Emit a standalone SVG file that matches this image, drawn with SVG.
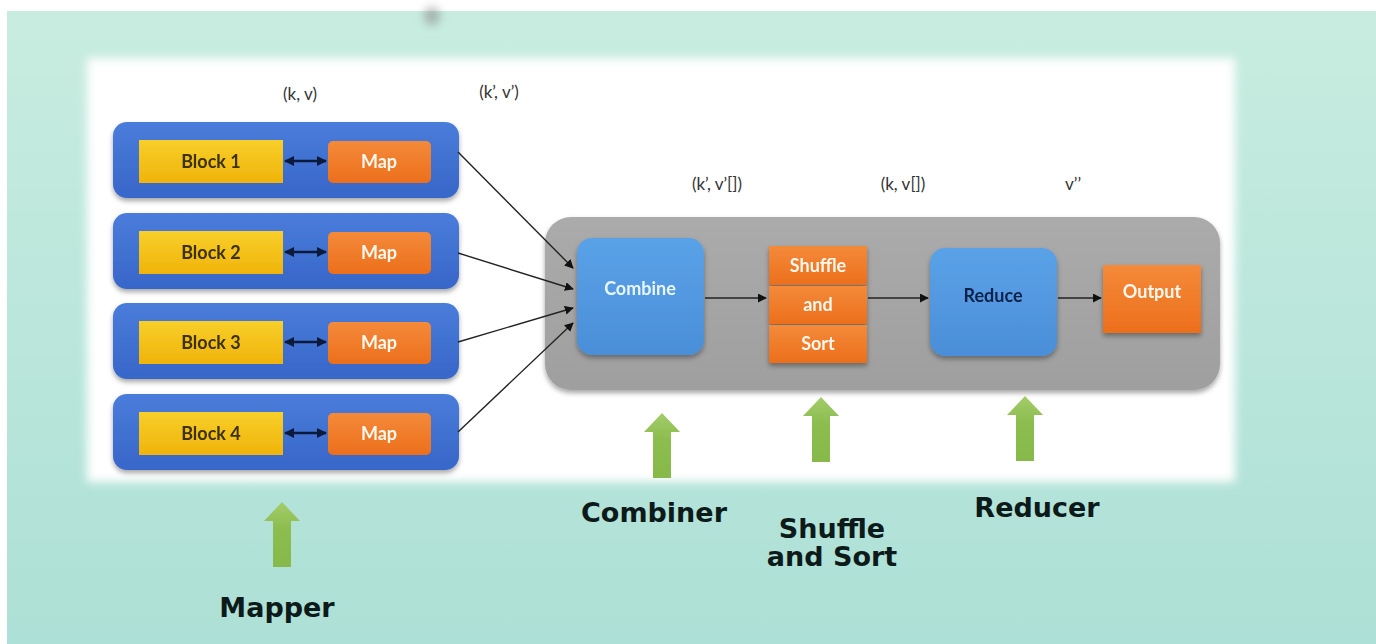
<svg xmlns="http://www.w3.org/2000/svg" width="1376" height="644" viewBox="0 0 1376 644">
<defs>
<linearGradient id="bg" x1="0" y1="0" x2="0" y2="1">
<stop offset="0" stop-color="#c8ece0"/>
<stop offset="1" stop-color="#ade0d6"/>
</linearGradient>
<linearGradient id="rowg" x1="0" y1="0" x2="0" y2="1">
<stop offset="0" stop-color="#4a7ddb"/>
<stop offset="1" stop-color="#3766c8"/>
</linearGradient>
<linearGradient id="yel" x1="0" y1="0" x2="0" y2="1">
<stop offset="0" stop-color="#f8cf2a"/>
<stop offset="1" stop-color="#f0b30a"/>
</linearGradient>
<linearGradient id="org" x1="0" y1="0" x2="0" y2="1">
<stop offset="0" stop-color="#f48a3a"/>
<stop offset="1" stop-color="#ec6f1c"/>
</linearGradient>
<linearGradient id="lb" x1="0" y1="0" x2="0" y2="1">
<stop offset="0" stop-color="#5aa2e8"/>
<stop offset="1" stop-color="#4a8ed8"/>
</linearGradient>
<linearGradient id="gray" x1="0" y1="0" x2="0" y2="1">
<stop offset="0" stop-color="#ababab"/>
<stop offset="1" stop-color="#9f9f9f"/>
</linearGradient>
<linearGradient id="grn" x1="0" y1="0" x2="0" y2="1">
<stop offset="0" stop-color="#a3cc6a"/>
<stop offset="0.4" stop-color="#8dbd4f"/>
<stop offset="1" stop-color="#86b84a"/>
</linearGradient>
<filter id="soft" x="-5%" y="-5%" width="110%" height="110%"><feGaussianBlur stdDeviation="5"/></filter>
<filter id="blob" x="-100%" y="-100%" width="300%" height="300%"><feGaussianBlur stdDeviation="5"/></filter>
<filter id="sh" x="-10%" y="-10%" width="120%" height="130%">
<feDropShadow dx="0" dy="3" stdDeviation="2.5" flood-color="#000" flood-opacity="0.35"/>
</filter>
<marker id="ah" viewBox="0 0 10 10" refX="9" refY="5" markerWidth="9" markerHeight="9" orient="auto-start-reverse" markerUnits="userSpaceOnUse">
<path d="M0,0 L10,5 L0,10 z" fill="#111"/>
</marker>
<marker id="ahd" viewBox="0 0 10 10" refX="9" refY="5" markerWidth="10" markerHeight="10" orient="auto-start-reverse" markerUnits="userSpaceOnUse">
<path d="M0,0 L10,5 L0,10 z" fill="#0c1a3c"/>
</marker>
<path id="garrow" d="M-9,0 L-9,-46 L-18,-46 L0,-65 L18,-46 L9,-46 L9,0 z"/>
</defs>
<style>
.lbl{font-family:Lato,"Open Sans","Liberation Sans",sans-serif;font-size:17px;fill:#333;text-anchor:middle}
.blk{font-family:Lato,"Open Sans","Liberation Sans",sans-serif;font-size:18px;font-weight:bold;fill:#3a3000;text-anchor:middle}
.wt{font-family:Lato,"Open Sans","Liberation Sans",sans-serif;font-size:18px;font-weight:bold;fill:#fff8ee;text-anchor:middle}
.big{font-family:"DejaVu Sans",Verdana,sans-serif;font-size:27px;font-weight:bold;fill:#0d1a1a;text-anchor:middle}
.conn{stroke:#222;stroke-width:1.4;fill:none}
.garr{fill:url(#grn)}
</style>

<rect x="0" y="0" width="1376" height="644" fill="#ffffff"/>
<rect x="7" y="11" width="1369" height="633" fill="url(#bg)"/>
<ellipse cx="432" cy="16" rx="8" ry="9" fill="#888" opacity="0.6" filter="url(#blob)"/>
<rect x="87" y="58" width="1148" height="424" fill="#ffffff" filter="url(#soft)"/>

<g id="labels">
<text class="lbl" x="300" y="100">(k, v)</text>
<text class="lbl" x="499" y="98">(k’, v’)</text>
<text class="lbl" x="717" y="190">(k’, v’[])</text>
<text class="lbl" x="903" y="190">(k, v[])</text>
<text class="lbl" x="1073" y="190">v’’</text>
</g>

<g id="row1" filter="url(#sh)">
<rect x="113" y="122" width="346" height="76" rx="14" fill="url(#rowg)"/>
<rect x="139" y="140" width="144" height="43" fill="url(#yel)"/>
<text class="blk" x="211" y="168">Block 1</text>
<rect x="328" y="141" width="103" height="42" rx="5" fill="url(#org)"/>
<text class="wt" x="379" y="168">Map</text>
</g>
<g id="row2" filter="url(#sh)">
<rect x="113" y="213" width="346" height="76" rx="14" fill="url(#rowg)"/>
<rect x="139" y="231" width="144" height="43" fill="url(#yel)"/>
<text class="blk" x="211" y="259">Block 2</text>
<rect x="328" y="232" width="103" height="42" rx="5" fill="url(#org)"/>
<text class="wt" x="379" y="259">Map</text>
</g>
<g id="row3" filter="url(#sh)">
<rect x="113" y="303" width="346" height="76" rx="14" fill="url(#rowg)"/>
<rect x="139" y="321" width="144" height="43" fill="url(#yel)"/>
<text class="blk" x="211" y="349">Block 3</text>
<rect x="328" y="322" width="103" height="42" rx="5" fill="url(#org)"/>
<text class="wt" x="379" y="349">Map</text>
</g>
<g id="row4" filter="url(#sh)">
<rect x="113" y="394" width="346" height="76" rx="14" fill="url(#rowg)"/>
<rect x="139" y="412" width="144" height="43" fill="url(#yel)"/>
<text class="blk" x="211" y="440">Block 4</text>
<rect x="328" y="413" width="103" height="42" rx="5" fill="url(#org)"/>
<text class="wt" x="379" y="440">Map</text>
</g>

<g id="pipeline" filter="url(#sh)">
<rect x="545" y="217" width="675" height="173" rx="26" fill="url(#gray)"/>
</g>
<g id="combine" filter="url(#sh)">
<rect x="577" y="238" width="127" height="117" rx="15" fill="url(#lb)"/>
<text class="wt" x="640" y="295" style="fill:#e8f6ff">Combine</text>
</g>
<g id="shuffle" filter="url(#sh)">
<rect x="769" y="246" width="98" height="39" fill="url(#org)"/>
<rect x="769" y="286" width="98" height="38" fill="url(#org)"/>
<rect x="769" y="325" width="98" height="38" fill="url(#org)"/>
<text class="wt" x="818" y="272">Shuffle</text>
<text class="wt" x="818" y="311">and</text>
<text class="wt" x="818" y="350">Sort</text>
</g>
<g id="reduce" filter="url(#sh)">
<rect x="930" y="248" width="127" height="108" rx="15" fill="url(#lb)"/>
<text class="wt" x="993" y="302" style="fill:#10224a">Reduce</text>
</g>
<g id="output" filter="url(#sh)">
<rect x="1103" y="265" width="98" height="68" fill="url(#org)"/>
<text class="wt" x="1152" y="298">Output</text>
</g>

<g id="connectors">
<line x1="285" y1="161" x2="326" y2="161" stroke="#0c1a3c" stroke-width="2.4" marker-start="url(#ahd)" marker-end="url(#ahd)"/>
<line x1="285" y1="252" x2="326" y2="252" stroke="#0c1a3c" stroke-width="2.4" marker-start="url(#ahd)" marker-end="url(#ahd)"/>
<line x1="285" y1="342" x2="326" y2="342" stroke="#0c1a3c" stroke-width="2.4" marker-start="url(#ahd)" marker-end="url(#ahd)"/>
<line x1="285" y1="433" x2="326" y2="433" stroke="#0c1a3c" stroke-width="2.4" marker-start="url(#ahd)" marker-end="url(#ahd)"/>
<line class="conn" x1="458" y1="152" x2="573" y2="268" marker-end="url(#ah)"/>
<line class="conn" x1="458" y1="253" x2="573" y2="289" marker-end="url(#ah)"/>
<line class="conn" x1="458" y1="342" x2="573" y2="308" marker-end="url(#ah)"/>
<line class="conn" x1="458" y1="432" x2="573" y2="323" marker-end="url(#ah)"/>
<line class="conn" x1="705" y1="298" x2="766" y2="298" marker-end="url(#ah)"/>
<line class="conn" x1="868" y1="298" x2="928" y2="298" marker-end="url(#ah)"/>
<line class="conn" x1="1058" y1="298" x2="1101" y2="298" marker-end="url(#ah)"/>
</g>

<g id="mapper">
<use href="#garrow" class="garr" transform="translate(282,567)"/>
<text class="big" x="277" y="617">Mapper</text>
</g>
<g id="combiner">
<use href="#garrow" class="garr" transform="translate(662,478)"/>
<text class="big" x="654" y="522">Combiner</text>
</g>
<g id="shufflesort">
<use href="#garrow" class="garr" transform="translate(821,462)"/>
<text class="big" x="832" y="538">Shuffle</text>
<text class="big" x="832" y="566">and Sort</text>
</g>
<g id="reducer">
<use href="#garrow" class="garr" transform="translate(1025,461)"/>
<text class="big" x="1037" y="517">Reducer</text>
</g>
</svg>
